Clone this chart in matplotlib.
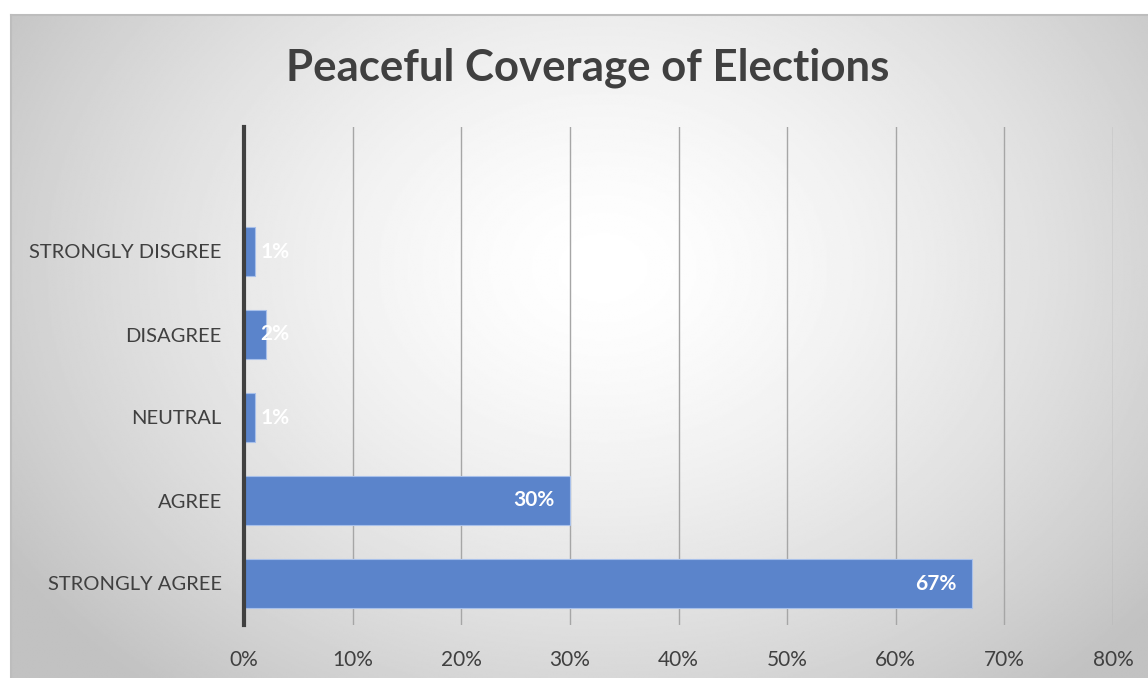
import matplotlib.pyplot as plt
import numpy as np

# survey responses, top to bottom as shown
categories = ['STRONGLY DISGREE', 'DISAGREE', 'NEUTRAL', 'AGREE', 'STRONGLY AGREE']
percents = [1, 2, 1, 30, 67]
xticks = [0, 10, 20, 30, 40, 50, 60, 70, 80]
xtick_labels = ['0%', '10%', '20%', '30%', '40%', '50%', '60%', '70%', '80%']

plt.rcParams['font.family'] = ['Lato', 'DejaVu Sans']

W, H = 1148, 678
fig = plt.figure(figsize=(W / 100, H / 100), dpi=100)
fig.patch.set_facecolor('white')

# chart area with a radial grey-to-white fill
bx0, by0 = 11, 15
bg = fig.add_axes([bx0 / W, 0, 1 - bx0 / W, 1 - by0 / H])
ny, nx = 400, 700
yy, xx = np.mgrid[0:ny, 0:nx]
cx, cy = 0.52 * nx, 0.38 * ny
d = np.sqrt(((xx - cx) / nx) ** 2 + ((yy - cy) / ny * 0.75) ** 2)
d = np.clip(d / 0.62, 0, 1)
shade = 1.0 - 0.24 * d ** 1.5
bg.imshow(shade, cmap='gray', vmin=0, vmax=1, aspect='auto',
          extent=[0, 1, 0, 1], interpolation='bilinear')
bg.set_xlim(0, 1)
bg.set_ylim(0, 1)
bg.set_xticks([])
bg.set_yticks([])
for side in ['right', 'bottom']:
    bg.spines[side].set_visible(False)
for side in ['top', 'left']:
    bg.spines[side].set_color('#bdbdbd')
    bg.spines[side].set_linewidth(1.5)

# plot area
px0, px1 = 244, 1113
py0, py1 = 127, 625
ax = fig.add_axes([px0 / W, 1 - py1 / H, (px1 - px0) / W, (py1 - py0) / H])
ax.patch.set_alpha(0)

n = len(categories)
ypos = np.arange(n)[::-1]
ax.barh(ypos, percents, height=0.59, color='#5b84cb', edgecolor='#a8c0ea',
        linewidth=0.8, zorder=3)

ax.set_xlim(0, 80)
ax.set_ylim(-0.5, n + 0.5)
ax.set_xticks(xticks)
ax.set_xticklabels(xtick_labels, fontsize=15, color='#404040')
ax.set_yticks(ypos)
ax.set_yticklabels(categories, fontsize=14.5, color='#404040')
ax.tick_params(axis='both', length=0)
ax.tick_params(axis='y', pad=16)
ax.tick_params(axis='x', pad=18)
ax.grid(axis='x', color='#a6a6a6', linewidth=1, zorder=1)
for side in ['top', 'right', 'bottom']:
    ax.spines[side].set_visible(False)
ax.spines['left'].set_color('#404040')
ax.spines['left'].set_linewidth(3)
ax.spines['left'].set_zorder(4)

for y, v in zip(ypos, percents):
    if v >= 10:
        ax.annotate(f'{v}%', (v, y), xytext=(-11, 0), textcoords='offset points',
                    ha='right', va='center', color='white', fontsize=15,
                    fontweight='bold', zorder=5)
    else:
        ax.annotate(f'{v}%', (0, y), xytext=(12, 0), textcoords='offset points',
                    ha='left', va='center', color='white', fontsize=15,
                    fontweight='bold', zorder=5)

fig.text(588 / W, 1 - 68 / H, 'Peaceful Coverage of Elections', ha='center',
         va='center', fontsize=31.5, fontweight='bold', color='#404040')

fig.savefig('out.png', dpi=100)
